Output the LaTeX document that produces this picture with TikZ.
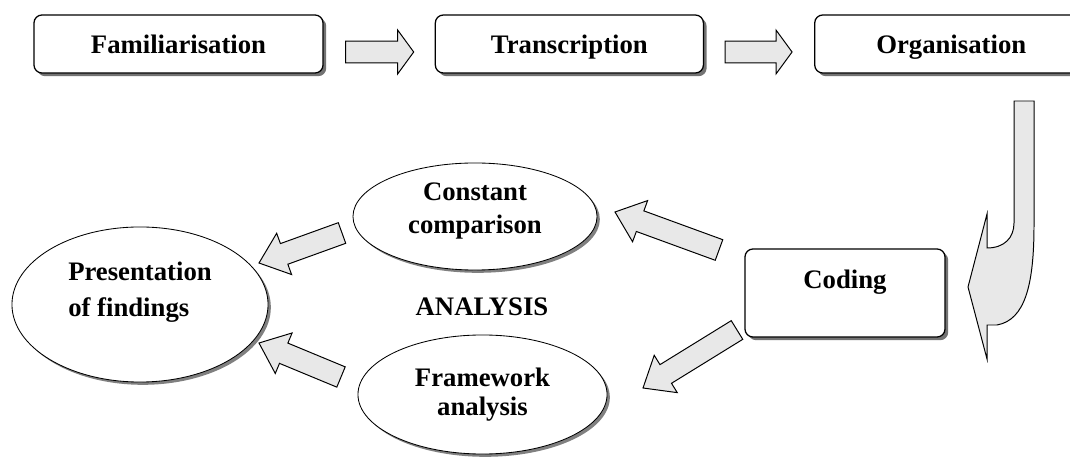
\documentclass[tikz,border=0pt]{standalone}
\usepackage{fontspec}
\setmainfont{Liberation Serif}
\usepackage{xcolor}
\usetikzlibrary{calc, positioning, shapes.geometric, shadows}

\definecolor{arrowgray}{HTML}{E8E8E8}

% block arrow from a tail coordinate to a tip coordinate
\newcommand{\fatarrow}[3][19pt]{%
  \coordinate (fa-head) at ($(#3)!#1!(#2)$);
  \draw[fat arrow] ($(#2)!7.8pt!90:(#3)$) -- ($(fa-head)!7.8pt!90:(#3)$)
    -- ($(fa-head)!15.6pt!90:(#3)$) -- (#3) -- ($(fa-head)!15.6pt!-90:(#3)$)
    -- ($(fa-head)!7.8pt!-90:(#3)$) -- ($(#2)!7.8pt!-90:(#3)$) -- cycle;}

\begin{document}
\begin{tikzpicture}[x=0.025cm,y=-0.025cm,
                    every node/.style={font=\fontsize{19}{23.5}\selectfont\bfseries},
                    stage box/.style={draw,line width=0.9pt,rounded corners=0.2cm,fill=white,
                      drop shadow={shadow xshift=0.08cm,shadow yshift=-0.08cm,fill=black!55,opacity=1},
                      minimum height=1.45cm,inner sep=0pt},
                    row box/.style={stage box,text height=16pt,text depth=3pt},
                    step oval/.style={ellipse,draw,line width=0.6pt,fill=white,align=center,inner sep=0pt,
                      drop shadow={shadow xshift=0.07cm,shadow yshift=-0.07cm,fill=black!50,opacity=1}},
                    fat arrow/.style={draw,fill=arrowgray,line width=0.7pt,line join=miter}]

  \clip (0,0) rectangle (1070,457);

  % top row
  \node[row box, minimum width=7.225cm] (fam) at (178.5,44) {Familiarisation};
  \node[row box, minimum width=6.7cm, right=2.775cm of fam] (trans) {Transcription};
  \node[row box, minimum width=6.825cm, right=2.75cm of trans] (org) {Organisation};

  % analysis part
  \node[stage box, minimum width=5cm, minimum height=2.2cm, align=center] (coding) at (845,293) {Coding\\[-4pt]\mbox{}};
  \node[step oval, minimum width=6.1cm, minimum height=2.675cm] (constant) at (475,216.5) {Constant\\comparison\\[-11pt]\mbox{}};
  \node[step oval, minimum width=6.225cm, minimum height=2.975cm] (framework) at (482.5,394.5) {Framework\\[-3pt]analysis};
  \node[step oval, minimum width=6.4cm, minimum height=3.875cm, align=left] (present) at (140,304.5) {Presentation\\[2pt]of findings\\[-2pt]\mbox{}};
  \node (analysis) at (482,307) {ANALYSIS};

  % arrow ends
  \coordinate (fam-t) at ($(fam.east)+(22,8)$);
  \coordinate (fam-h) at ($(trans.west)+(-21,8)$);
  \coordinate (trans-t) at ($(trans.east)+(21,8)$);
  \coordinate (trans-h) at ($(org.west)+(-22,8)$);
  \coordinate (cod-t1) at (719,250);
  \coordinate (cod-h1) at (615,212);
  \coordinate (cod-t2) at (737,330);
  \coordinate (cod-h2) at (643,388);
  \coordinate (con-t) at (342,233);
  \coordinate (con-h) at (259,263);
  \coordinate (fra-t) at (341,377);
  \coordinate (fra-h) at (259,343);

  \fatarrow[11.4pt]{fam-t}{fam-h}
  \fatarrow[11.4pt]{trans-t}{trans-h}
  \fatarrow{cod-t1}{cod-h1}
  \fatarrow{cod-t2}{cod-h2}
  \fatarrow{con-t}{con-h}
  \fatarrow{fra-t}{fra-h}

  % bent arrow from Organisation down to Coding
  \draw[fat arrow] (1014,101) -- (1014,223) .. controls (1014,238) and (1004,248) .. (987,248)
    -- (987,214) -- (968,287) -- (987,359) -- (987,325) -- (997,325)
    .. controls (1025,320) and (1034,285) .. (1034,225) -- (1034,101) -- cycle;

\end{tikzpicture}
\end{document}
